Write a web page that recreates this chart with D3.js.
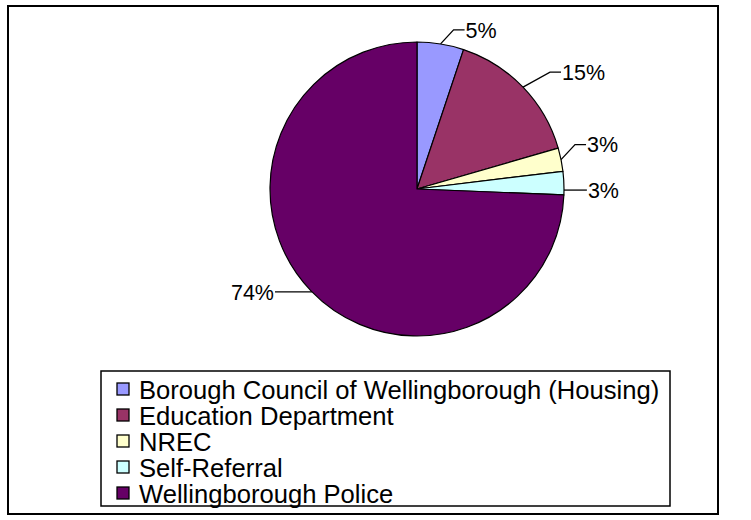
<!DOCTYPE html>
<html>
<head>
<meta charset="utf-8">
<script src="https://cdn.jsdelivr.net/npm/d3@7"></script>
<style>
  html, body { margin: 0; padding: 0; background: #fff; }
  svg { display: block; font-family: "Liberation Sans", Arial, sans-serif; }
</style>
</head>
<body>
<script>
// referral sources and counts (percent labels are derived)
const sources = [
  "Borough Council of Wellingborough (Housing)",
  "Education Department",
  "NREC",
  "Self-Referral",
  "Wellingborough Police"
];
const counts = [2, 6, 1, 1, 29];
const colors = ["#9999FF", "#993366", "#FFFFCC", "#CCFFFF", "#660066"];

const width = 751, height = 520;
const cx = 417, cy = 189, radius = 147;

// where each label sits relative to its slice edge (Excel "best fit" placement)
const labelShift = [[25, -14], [39, -15], [26, -15], [24, 7], [-37, 1]];

const svg = d3.select("body").append("svg")
  .attr("width", width)
  .attr("height", height);

// chart area border
svg.append("rect")
  .attr("x", 8).attr("y", 6)
  .attr("width", 710).attr("height", 508)
  .attr("fill", "none")
  .attr("stroke", "#000")
  .attr("stroke-width", 2);

const pie = d3.pie().sort(null).value(d => d)(counts);
const total = d3.sum(counts);
const arc = d3.arc().innerRadius(0).outerRadius(radius);
const edge = d3.arc().innerRadius(radius).outerRadius(radius);

const g = svg.append("g").attr("transform", `translate(${cx},${cy})`);

g.selectAll("path.slice")
  .data(pie)
  .join("path")
  .attr("class", "slice")
  .attr("d", arc)
  .attr("fill", (d, i) => colors[i])
  .attr("stroke", "#000")
  .attr("stroke-width", 1.2)
  .attr("stroke-linejoin", "round");

// labels with leader lines
const labels = pie.map((d, i) => {
  const p = edge.centroid(d);
  const side = labelShift[i][0] >= 0 ? 1 : -1;
  const ax = p[0] + labelShift[i][0];
  const ay = p[1] + labelShift[i][1];
  let line;
  if (Math.abs(p[1] - ay) < 10) {
    // label level with the slice: plain horizontal leader
    const sx = side * Math.sqrt(radius * radius - ay * ay);
    line = [[sx, ay], [ax - 1 * side, ay]];
  } else {
    line = [p, [ax - 12 * side, ay], [ax - 1 * side, ay]];
  }
  return { text: d3.format(".0%")(d.value / total), side, ax, ay, line };
});

g.selectAll("path.leader")
  .data(labels)
  .join("path")
  .attr("class", "leader")
  .attr("d", d => d3.line()(d.line))
  .attr("fill", "none")
  .attr("stroke", "#000")
  .attr("stroke-width", 1.3);

g.selectAll("text.lbl")
  .data(labels)
  .join("text")
  .attr("class", "lbl")
  .attr("x", d => d.ax)
  .attr("y", d => d.ay)
  .attr("dy", "0.36em")
  .attr("text-anchor", d => d.side > 0 ? "start" : "end")
  .attr("font-size", 21.5)
  .attr("fill", "#000")
  .text(d => d.text);

// legend
const lg = svg.append("g");
lg.append("rect")
  .attr("x", 101).attr("y", 371)
  .attr("width", 569).attr("height", 135)
  .attr("fill", "#fff")
  .attr("stroke", "#000")
  .attr("stroke-width", 1.5);

const rowY = d3.scalePoint().domain(sources).range([389.5, 493.5]);

const rows = lg.selectAll("g.row")
  .data(sources)
  .join("g")
  .attr("class", "row")
  .attr("transform", d => `translate(0,${rowY(d)})`);

rows.append("rect")
  .attr("x", 117).attr("y", -6.5)
  .attr("width", 12).attr("height", 12)
  .attr("fill", (d, i) => colors[i])
  .attr("stroke", "#000")
  .attr("stroke-width", 1.3);

rows.append("text")
  .attr("x", 139)
  .attr("dy", "0.36em")
  .attr("font-size", 25.6)
  .attr("fill", "#000")
  .text(d => d);
</script>
</body>
</html>
